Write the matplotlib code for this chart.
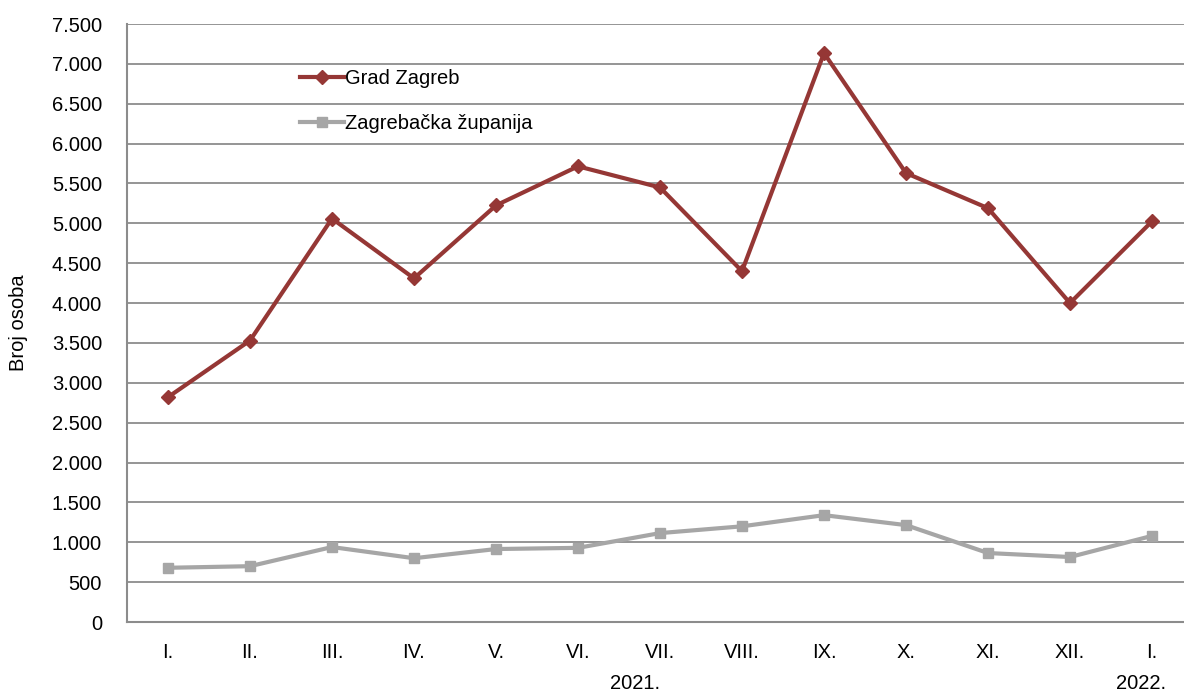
import matplotlib.pyplot as plt
import numpy as np

plt.rcParams['font.family'] = ['Liberation Sans', 'DejaVu Sans']

# mjeseci
mjeseci = ['I.', 'II.', 'III.', 'IV.', 'V.', 'VI.', 'VII.', 'VIII.', 'IX.', 'X.', 'XI.', 'XII.', 'I.']
grad_zagreb = [2820, 3530, 5060, 4310, 5225, 5715, 5450, 4400, 7135, 5630, 5190, 4000, 5025]
zg_zupanija = [680, 700, 940, 800, 915, 930, 1115, 1200, 1340, 1215, 865, 815, 1080]
godine = ['2021.', '2022.']
yticks = np.arange(0, 7501, 500)

fs = 14.5
fig = plt.figure(figsize=(11.84, 6.95), dpi=100)
ax = fig.add_axes([127/1184, 73/695, 1066/1184, 598/695])

x = np.arange(len(mjeseci))
for y in yticks[1:]:
    ax.axhline(y, color='#8c8c8c', linewidth=1.3, zorder=1)

ax.plot(x, grad_zagreb, color='#953735', linewidth=3, marker='D', markersize=7,
        label='Grad Zagreb', zorder=3)
ax.plot(x, zg_zupanija, color='#a6a6a6', linewidth=3, marker='s', markersize=7,
        label='Zagrebačka županija', zorder=3)

ax.set_xlim(-0.5, 12.5)
ax.set_ylim(0, 7500)
ax.set_yticks(yticks)
ax.set_yticklabels([f'{v:,}'.replace(',', '.') for v in yticks], fontsize=fs)
ax.set_xticks(x)
ax.set_xticklabels(mjeseci, fontsize=fs)
ax.tick_params(axis='y', length=0, pad=18)
ax.tick_params(axis='x', length=0, pad=15)

for s in ['top', 'right']:
    ax.spines[s].set_visible(False)
for s in ['left', 'bottom']:
    ax.spines[s].set_color('#8c8c8c')
    ax.spines[s].set_linewidth(1.5)

ax.set_ylabel('Broj osoba', fontsize=fs)
ax.yaxis.set_label_coords(-99/1066, 0.5)

ax.text(5.7, -0.103, godine[0], transform=ax.get_xaxis_transform(), fontsize=fs,
        ha='center', va='center')
ax.text(11.87, -0.103, godine[1], transform=ax.get_xaxis_transform(), fontsize=fs,
        ha='center', va='center')

ax.legend(loc='upper left', bbox_to_anchor=(0.145, 0.955), frameon=False, fontsize=fs,
          handlelength=2.2, handletextpad=0.05, labelspacing=1.3)

fig.savefig('out.png', dpi=100)
